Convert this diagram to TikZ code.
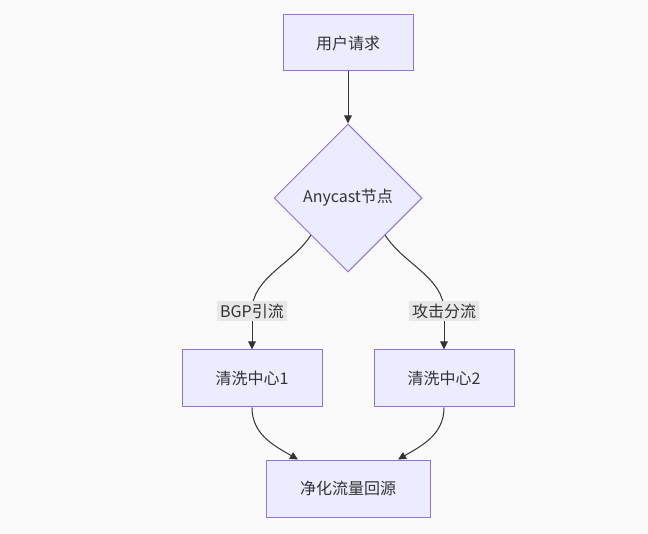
\documentclass[tikz,border=0pt]{standalone}
\usepackage{fontspec}
\setmainfont{Noto Sans CJK SC}
\usetikzlibrary{shapes.geometric, positioning, arrows.meta}
\definecolor{nodefill}{HTML}{ECECFF}
\definecolor{nodeline}{HTML}{9370DB}
\definecolor{edgeline}{HTML}{333333}
\definecolor{labelbg}{HTML}{E8E8E8}
\definecolor{pagebg}{HTML}{FAFAFA}
\tikzset{
  box/.style={rectangle, draw=nodeline, fill=nodefill, line width=1pt, minimum height=57pt, text=edgeline, font=\fontsize{16}{19}\selectfont},
  decision/.style={diamond, draw=nodeline, fill=nodefill, line width=1pt, minimum width=148pt, minimum height=148pt, inner sep=0pt, text=edgeline, font=\fontsize{16}{19}\selectfont},
  flow/.style={draw=edgeline, line width=1pt, -{Triangle[length=8pt,width=7.5pt]}},
  edgelabel/.style={fill=labelbg, inner sep=3pt, text=edgeline, font=\fontsize{16}{19}\selectfont},
}
\begin{document}
\begin{tikzpicture}[x=1pt, y=-1pt]
\fill[pagebg] (0,0) rectangle (648,534);
\useasboundingbox (0,0) rectangle (648,534);

\node[box, minimum width=130pt, minimum height=56pt] (req) at (348,43) {用户请求};
\node[decision] (any) at (348,198) {Anycast节点};
\node[box, minimum width=140pt] (clean1) at (252,378.5) {清洗中心1};
\node[box, minimum width=140pt] (clean2) at (444,378.5) {清洗中心2};
\node[box, minimum width=164pt] (back) at (348,488.5) {净化流量回源};

\coordinate (l1) at (252,311);
\coordinate (l2) at (444,311);

\draw[flow] (req) -- (any);
\draw[edgeline, line width=1pt] (any.south west) to[out=-122,in=90,looseness=0.9] (l1);
\draw[flow] (l1) -- (clean1);
\draw[edgeline, line width=1pt] (any.south east) to[out=-58,in=90,looseness=0.9] (l2);
\draw[flow] (l2) -- (clean2);
\draw[flow] (clean1.south) to[out=-90,in=150] ([xshift=-50pt]back.north);
\draw[flow] (clean2.south) to[out=-90,in=30] ([xshift=50pt]back.north);

\node[edgelabel] (lbl1) at (l1) {BGP引流};
\node[edgelabel] (lbl2) at (l2) {攻击分流};
\end{tikzpicture}
\end{document}
